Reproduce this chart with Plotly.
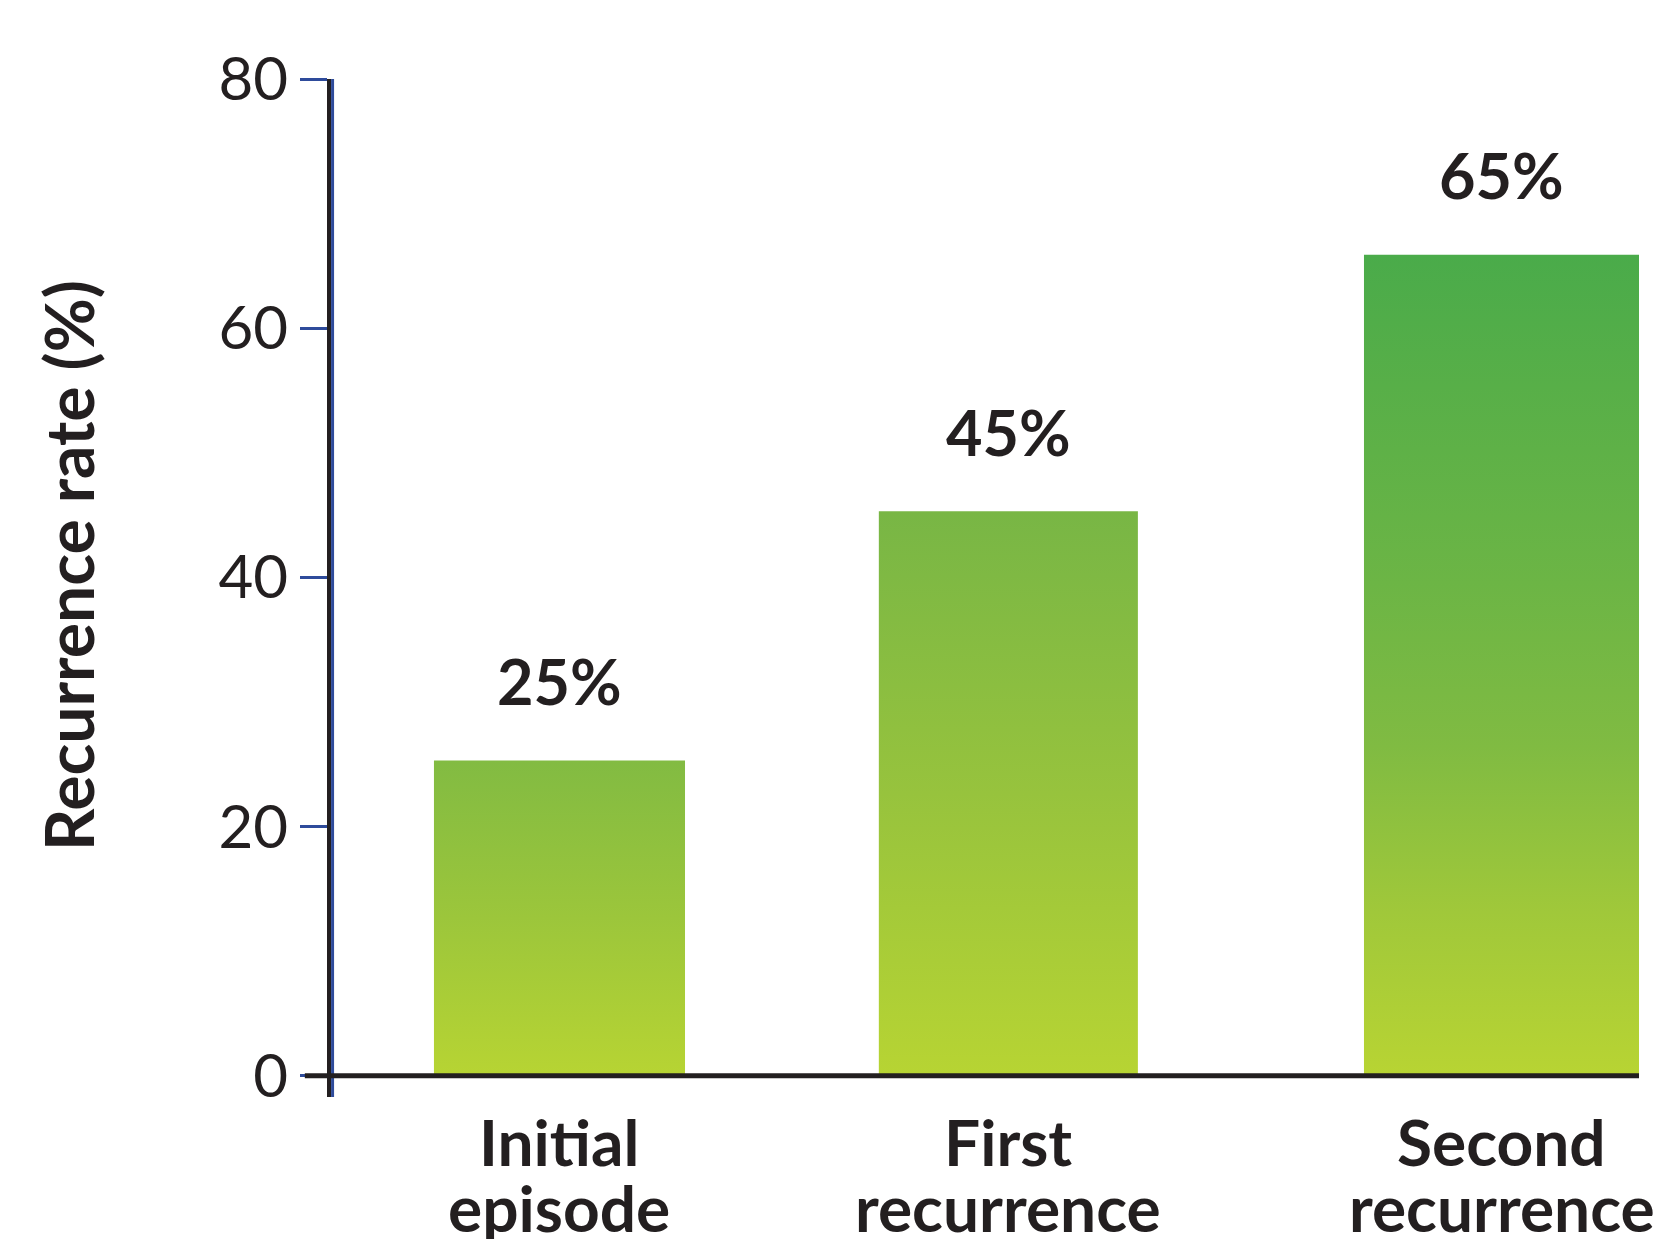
import plotly.graph_objects as go

# ---- data ----
categories_line1 = ["Initial", "First", "Second"]
categories_line2 = ["episode", "recurrence", "recurrence"]
recurrence_rate = [25.3, 45.3, 65.9]
value_labels = ["25%", "45%", "65%"]
y_ticks = [0, 20, 40, 60, 80]

# ---- layout / style (positions in category units) ----
bar_centers = [0.0, 0.953, 2.0]
bar_widths = [0.533, 0.55, 0.584]
bar_scales = [
    [[0, "#b7d433"], [0.5, "#9cc63b"], [1, "#82bb42"]],
    [[0, "#b7d433"], [0.5, "#97c33d"], [1, "#78b645"]],
    [[0, "#b8d433"], [0.2, "#a0c83a"], [0.4, "#80bb42"], [0.6, "#6cb545"], [1, "#4aab4a"]],
]
TXT = "#231f20"
BLUE = "#2e4b9b"
FONT = "Lato"

fig = go.Figure()

for c, w, v, cs in zip(bar_centers, bar_widths, recurrence_rate, bar_scales):
    x0, x1 = c - w / 2, c + w / 2
    fig.add_trace(go.Scatter(
        x=[x0, x1, x1, x0, x0],
        y=[0, 0, v, v, 0],
        mode="lines",
        fill="toself",
        line=dict(width=0, color="rgba(0,0,0,0)"),
        fillgradient=dict(type="vertical", colorscale=cs, start=0, stop=v),
        hoverinfo="skip",
        showlegend=False,
    ))

# value labels
for c, v, t in zip(bar_centers, recurrence_rate, value_labels):
    fig.add_annotation(x=c, y=v, text=t, showarrow=False, xref="x", yref="y",
                       yanchor="middle", yshift=80,
                       font=dict(family=FONT, size=63, color=TXT, weight="bold"))

# category labels (two lines)
for c, l1, l2 in zip(bar_centers, categories_line1, categories_line2):
    fig.add_annotation(x=c, y=0, text=l1, showarrow=False, xref="x", yref="y",
                       yanchor="middle", yshift=-66,
                       font=dict(family=FONT, size=64, color=TXT, weight="bold"))
    fig.add_annotation(x=c, y=0, text=l2, showarrow=False, xref="x", yref="y",
                       yanchor="middle", yshift=-132,
                       font=dict(family=FONT, size=64, color=TXT, weight="bold"))

# y-axis title
fig.add_annotation(x=0, y=0.5, xref="paper", yref="paper", xshift=-263, yshift=22,
                   text="Recurrence rate (%)", textangle=-90, showarrow=False,
                   xanchor="center", yanchor="middle",
                   font=dict(family=FONT, size=66, color=TXT, weight="bold"))

# blue companion of the y-axis line
fig.add_shape(type="line", xref="paper", yref="y", x0=0.0012, x1=0.0012,
              y0=-1.7, y1=80, line=dict(color=BLUE, width=3), layer="above")
# zero baseline
fig.add_shape(type="line", xref="paper", yref="y", x0=-0.02, x1=1,
              y0=0, y1=0, line=dict(color=TXT, width=5), layer="above")

fig.update_layout(
    width=1660, height=1239,
    margin=dict(l=331, r=21, t=79, b=142),
    paper_bgcolor="white", plot_bgcolor="white",
    showlegend=False,
    xaxis=dict(range=[-0.4851, 2.2919], showgrid=False, zeroline=False,
               showticklabels=False, ticks="", showline=False, fixedrange=True),
    yaxis=dict(range=[-1.7, 80], tickvals=y_ticks, ticktext=[str(t) for t in y_ticks],
               showgrid=False, zeroline=False, showline=True, linecolor=TXT, linewidth=4,
               ticks="outside", ticklen=27, tickwidth=3, tickcolor=BLUE,
               ticklabelstandoff=0,
               tickfont=dict(family=FONT, size=60, color=TXT), fixedrange=True),
)

fig.write_html("out.html")
